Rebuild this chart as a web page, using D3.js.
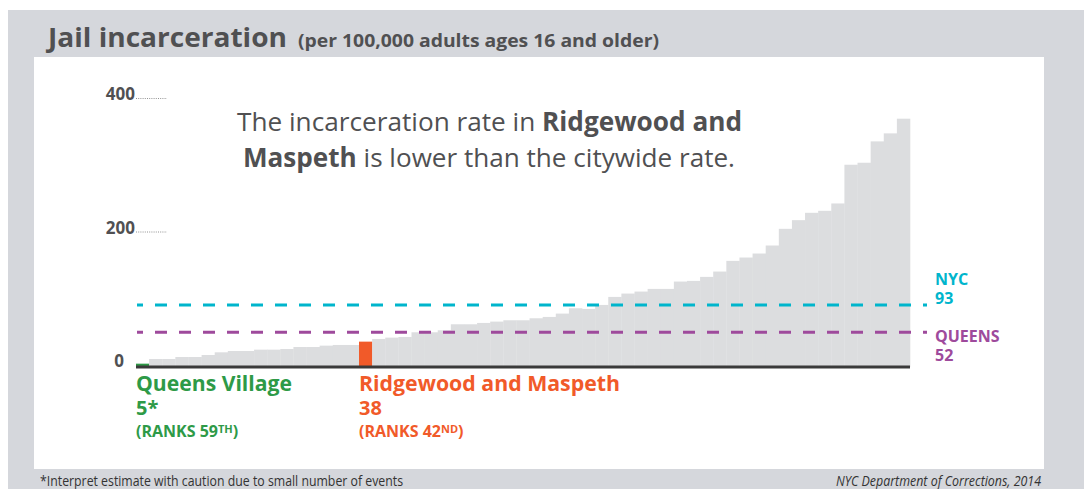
<!DOCTYPE html>
<html><head><meta charset="utf-8">
<script src="https://cdn.jsdelivr.net/npm/d3@7"></script>
<style>
html,body{margin:0;padding:0;background:#fff;}
svg{display:block;font-family:"Open Sans","Noto Sans",sans-serif;}
</style></head>
<body>
<svg id="chart" width="1084" height="489"></svg>
<script>
// ---- data (sorted lowest to highest rate, 59 community districts) ----
const rates = [5,12,12,15,15,18,22,24,24,26,26,27,30,30,32,33,33,38,42,44,45,52,52,55,64,64,66,68,70,70,73,75,80,88,87,93,105,110,113,117,117,128,129,135,143,159,164,170,182,207,220,231,234,245,303,306,338,350,372];
const yTicks = [0, 200, 400];
const highlightLow = {name: "Queens Village", value: "5*", rank: "59", suffix: "TH", index: 0};
const highlightSel = {name: "Ridgewood and Maspeth", value: "38", rank: "42", suffix: "ND", index: 17};
const refLines = [{label: "NYC", value: 93, above: true}, {label: "QUEENS", value: 52, above: false}];

const C = {bg:"#d5d7dc", bar:"#dcdddf", text:"#505052", green:"#2e9a47", orange:"#f15a29", nyc:"#00b5cc", queens:"#9e4a9c", axis:"#3a3a3a"};

const svg = d3.select("#chart");
// background panels
svg.append("rect").attr("x",8).attr("y",10).attr("width",1076).attr("height",479).attr("fill",C.bg);
svg.append("rect").attr("x",34).attr("y",57).attr("width",1010).attr("height",412).attr("fill","#fff");

// title
svg.append("text").attr("x",48).attr("y",47).attr("fill",C.text)
  .attr("font-size",27).attr("font-weight",700)
  .attr("textLength",239).attr("lengthAdjust","spacingAndGlyphs")
  .text("Jail incarceration");
svg.append("text").attr("x",298).attr("y",47).attr("fill",C.text)
  .attr("font-size",17).attr("font-weight",700)
  .attr("textLength",361).attr("lengthAdjust","spacingAndGlyphs")
  .text("(per 100,000 adults ages 16 and older)");

// scales
const x = d3.scaleBand().domain(d3.range(rates.length)).range([136, 910]).padding(0);
const y = d3.scaleLinear().domain([0, 400]).range([367, 100]);

// bars
svg.append("g").selectAll("rect").data(rates).join("rect")
  .attr("x",(d,i)=>x(i)).attr("width",x.bandwidth()+0.3)
  .attr("y",d=>y(d)).attr("height",d=>y(0)-y(d))
  .attr("fill",(d,i)=> i===highlightLow.index ? C.green : i===highlightSel.index ? C.orange : C.bar);

// y ticks
const tg = svg.append("g");
yTicks.forEach(v=>{
  tg.append("text").attr("x", v===0 ? 124 : 135).attr("y", y(v)).attr("text-anchor","end")
    .attr("fill",C.text).attr("font-size",17).attr("font-weight",700).text(v);
  if (v!==0) {
    tg.append("line").attr("x1",136).attr("x2",167).attr("y1",y(v)-1.5).attr("y2",y(v)-1.5)
      .attr("stroke","#777").attr("stroke-width",0.8).attr("stroke-dasharray","1,1.2");
  }
});

// reference lines
refLines.forEach(r=>{
  const col = r.label==="NYC" ? C.nyc : C.queens;
  svg.append("line").attr("x1",137).attr("x2",927).attr("y1",y(r.value)).attr("y2",y(r.value))
    .attr("stroke",col).attr("stroke-width",3).attr("stroke-dasharray","12,12").attr("stroke-dashoffset",6);
  const t = svg.append("text").attr("fill",col).attr("font-size",16).attr("font-weight",700);
  const y1 = r.above ? y(r.value)-20 : y(r.value)+10;
  t.append("tspan").attr("x",935).attr("y",y1).text(r.label);
  t.append("tspan").attr("x",935).attr("y",y1+19).text(r.value);
});

// axis baseline
svg.append("line").attr("x1",136).attr("x2",910).attr("y1",y(0)).attr("y2",y(0))
  .attr("stroke",C.axis).attr("stroke-width",3);

// annotation
const l1 = svg.append("text").attr("x",237).attr("y",131).attr("fill",C.text).attr("font-size",26)
  .attr("textLength",505).attr("lengthAdjust","spacingAndGlyphs");
l1.append("tspan").text("The incarceration rate in ");
l1.append("tspan").attr("font-weight",700).text("Ridgewood and");
const l2 = svg.append("text").attr("x",243).attr("y",167).attr("fill",C.text).attr("font-size",26)
  .attr("textLength",492).attr("lengthAdjust","spacingAndGlyphs");
l2.append("tspan").attr("font-weight",700).text("Maspeth");
l2.append("tspan").text(" is lower than the citywide rate.");

// highlight labels
function hlLabel(h, col, nameW){
  const x0 = x(h.index);
  svg.append("text").attr("x",x0).attr("y",391).attr("fill",col).attr("font-size",21).attr("font-weight",700)
    .attr("textLength",nameW).attr("lengthAdjust","spacingAndGlyphs").text(h.name);
  svg.append("text").attr("x",x0).attr("y",415).attr("fill",col).attr("font-size",20).attr("font-weight",700)
    .text(h.value);
  const r = svg.append("text").attr("x",x0).attr("y",437).attr("fill",col).attr("font-size",16).attr("font-weight",700);
  r.append("tspan").text("(RANKS " + h.rank);
  r.append("tspan").attr("font-size",11).attr("dy",-4).text(h.suffix);
  r.append("tspan").attr("dy",4).text(")");
}
hlLabel(highlightLow, C.green, 156);
hlLabel(highlightSel, C.orange, 261);

// footer
svg.append("text").attr("x",40).attr("y",486).attr("fill","#333").attr("font-size",14)
  .attr("textLength",363).attr("lengthAdjust","spacingAndGlyphs")
  .text("*Interpret estimate with caution due to small number of events");
svg.append("text").attr("x",1041).attr("y",486).attr("text-anchor","end").attr("fill","#333")
  .attr("font-size",14).attr("font-style","italic")
  .attr("textLength",205).attr("lengthAdjust","spacingAndGlyphs")
  .text("NYC Department of Corrections, 2014");
</script>
</body></html>
